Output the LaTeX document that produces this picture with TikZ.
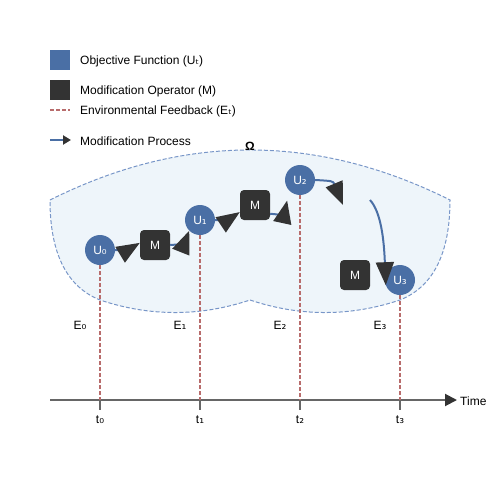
\documentclass[tikz,border=0pt]{standalone}
\usepackage{fontspec}
\setmainfont{Liberation Sans}
\newfontfamily\subfont{DejaVu Sans}
\usetikzlibrary{arrows.meta}
\definecolor{objblue}{RGB}{74,111,165}
\definecolor{opdark}{RGB}{51,51,51}
\definecolor{feedred}{RGB}{184,108,108}
\definecolor{regionfill}{RGB}{238,245,250}
\definecolor{regionline}{RGB}{120,150,200}
\definecolor{axisgray}{RGB}{102,102,102}
\newcommand{\lowidx}[1]{{\subfont #1}}

\begin{document}
\begin{tikzpicture}[x=1pt,y=-1pt,every node/.style={font=\fontsize{12}{14}\selectfont},
  objective/.style={circle,fill=objblue,minimum size=30pt,inner sep=0pt,text=white},
  operator/.style={rounded corners=4pt,fill=opdark,minimum size=30pt,inner sep=0pt,text=white},
  feedback/.style={draw=feedred,line width=2pt,dash pattern=on 4pt off 2pt},
  process/.style={draw=objblue,line width=2pt,-{Triangle[length=23pt,width=18pt,color=opdark]}},
  legendtext/.style={anchor=west,inner sep=0pt}]
\useasboundingbox (0,0) rectangle (500,500);

\draw[draw=regionline,fill=regionfill,line width=1pt,dash pattern=on 4pt off 2pt] (50,200) .. controls (183.3,133.3) and (316.7,133.3) .. (450,200) .. controls (450,253.3) and (433.3,286.7) .. (400,300) .. controls (350,316.7) and (300,316.7) .. (250,300) .. controls (200,316.7) and (150,316.7) .. (100,300) .. controls (66.7,286.7) and (50,253.3) .. (50,200) -- cycle;
\node[font=\bfseries\fontsize{12}{14}\selectfont] (omega) at (250,146) {Ω};

\node[fill=objblue,minimum size=20pt,inner sep=0pt] (keyobj) at (60,60) {};
\node[legendtext] at (80,61) {Objective Function (U\lowidx{ₜ})};
\node[fill=opdark,minimum size=20pt,inner sep=0pt] (keyop) at (60,90) {};
\node[legendtext] at (80,91) {Modification Operator (M)};
\coordinate (keyfbstart) at (50,110);
\coordinate (keyfbend) at (70,110);
\draw[feedback,line width=1.5pt] (keyfbstart) -- (keyfbend);
\node[legendtext] at (80,111) {Environmental Feedback (E\lowidx{ₜ})};
\coordinate (keyprstart) at (50,140);
\coordinate (keyprend) at (71,140);
\draw[draw=objblue,line width=2pt,-{Triangle[length=8pt,width=9pt,color=opdark]}] (keyprstart) -- (keyprend);
\node[legendtext] at (80,141) {Modification Process};

\coordinate (axisstart) at (50,400);
\coordinate (axisend) at (457,400);
\draw[draw=axisgray,line width=2pt,-{Triangle[length=12pt,width=12pt,color=opdark]}] (axisstart) -- (axisend);
\node[legendtext] (timelabel) at (460,401) {Time};

\foreach \i/\x/\y/\s in {0/100/250/₀,1/200/220/₁,2/300/180/₂,3/400/280/₃} {
  \node[objective] (u\i) at (\x,\y) {U\lowidx{\s}};
  \coordinate (tick\i) at (\x,400);
  \draw[feedback] (u\i.south) -- (tick\i);
  \draw[draw=axisgray,line width=2pt] (tick\i) -- ++(0,10);
  \node (time\i) at (\x,420) {t\lowidx{\s}};
  \node (env\i) at (\x-20,325) {E\lowidx{\s}};
}
\foreach \i/\x/\y in {0/155/245,1/255/205,2/355/275}
  \node[operator] (m\i) at (\x,\y) {M};

\draw[process] (u0.east) .. controls (128,250) .. (m0.172);
\draw[process] (m0.east) .. controls (184,244) .. (u1.south west);
\draw[process] (u1.east) .. controls (228,220) .. (m1.205);
\draw[process,shorten >=10pt] (m1.330) .. controls (284,215) .. (u2.south west);
\coordinate (driftend) at (343,205);
\draw[process] (u2.east) .. controls (333,181) .. (driftend);
\coordinate (driftstart) at (370,200);
\draw[process] (driftstart) .. controls (381,212) and (384,240) .. (u3.200);
\end{tikzpicture}
\end{document}
